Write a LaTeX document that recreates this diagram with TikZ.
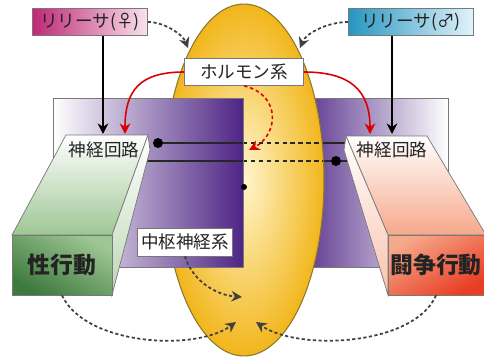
\documentclass[tikz,border=0pt]{standalone}
\usepackage{fontspec}
\setmainfont{Noto Sans CJK JP}
\usepackage{tikz}
\usetikzlibrary{arrows.meta,backgrounds,calc}

\definecolor{slabpurple}{RGB}{78,36,132}
\definecolor{eggyellow}{RGB}{242,182,28}
\definecolor{eggpale}{RGB}{255,246,205}
\definecolor{eggedge}{RGB}{140,120,40}
\definecolor{femmagenta}{RGB}{192,40,118}
\definecolor{femlight}{RGB}{248,226,236}
\definecolor{malecyan}{RGB}{38,150,192}
\definecolor{malelight}{RGB}{226,243,250}
\definecolor{sexdark}{RGB}{62,122,62}
\definecolor{sexlight}{RGB}{158,198,148}
\definecolor{fightdark}{RGB}{232,62,36}
\definecolor{fightlight}{RGB}{246,168,138}
\definecolor{edgegray}{RGB}{120,120,120}
\definecolor{textgray}{RGB}{35,35,35}

\tikzset{
  labelbox/.style={draw=edgegray, text=textgray, inner sep=0pt, minimum height=0.54cm, font=\fontsize{10}{12}\selectfont},
  facebox/.style={draw=edgegray, text=textgray, inner sep=0pt, minimum height=1.2cm, font=\fontsize{13}{13}\selectfont\bfseries},
  solidarrow/.style={black, line width=1.1pt, -{Stealth[length=6pt,width=6pt]}},
  hormonearrow/.style={red!85!black, line width=0.9pt, -{Stealth[length=6pt,width=6pt]}},
  hormonedash/.style={red!85!black, line width=0.9pt, dash pattern=on 2pt off 1.6pt, -{Stealth[length=6pt,width=6pt]}},
  dotarrow/.style={black!75, line width=1pt, dash pattern=on 1.8pt off 1.4pt, -{Stealth[length=6pt,width=6pt]}},
  wire/.style={black!85, line width=0.9pt},
  bigdot/.style={circle, fill=black, inner sep=0pt, minimum size=0.2cm},
}

\begin{document}
\begin{tikzpicture}[x=0.02cm,y=-0.02cm]
\useasboundingbox (0,0) rectangle (484,359);
\fill[white] (0,0) rectangle (484,359);

% back half of the nervous system slab
\shade[left color=slabpurple, right color=white] (290,98) rectangle (448,267);
\draw[edgegray] (53,98) rectangle (448,267);
\draw[wire] (243,143) -- (352,143);
\node[bigdot] (dotr) at (336,161) {};
\draw[wire] (243,161) -- (dotr) -- (350,161);

% hormone ellipse
\shade[inner color=eggpale, outer color=eggyellow, draw=eggedge, line width=0.6pt] (244,180) ellipse [x radius=1.6cm, y radius=3.52cm];
\draw[wire, dash pattern=on 2.5pt off 2pt] (243,143) -- (322,143);
\draw[wire, dash pattern=on 2.5pt off 2pt] (243,161) -- (323,161);

% front half of the slab
\shade[left color=white, right color=slabpurple] (53,98) rectangle (243,267);
\draw[edgegray] (53,98) rectangle (243,267);
\node[bigdot] (dotl) at (158,143) {};
\draw[wire] (dotl) -- (243,143);
\draw[wire] (147,161) -- (243,161);
\node[circle, fill=black, inner sep=0pt, minimum size=0.12cm] (dotc) at (244,187) {};

% left prism
\shade[top color=white, bottom color=sexlight, draw=edgegray] (12,235) -- (112,235) -- (148,135) -- (66,135) -- cycle;
\shade[top color=white, bottom color=sexlight!70, draw=edgegray] (112,235) -- (148,135) -- (150,150) -- (112,295) -- cycle;
\node[facebox, minimum width=2cm, top color=sexlight, bottom color=sexdark, shading angle=-30] (sexbeh) at (62,265) {性行動};
\node[text=textgray, font=\fontsize{10}{12}\selectfont] (circuitl) at (104,150) {神経回路};

% right prism
\shade[top color=white, bottom color=fightlight, draw=edgegray] (388,235) -- (486,235) -- (427,136) -- (346,136) -- cycle;
\shade[top color=white, bottom color=fightlight!70, draw=edgegray] (388,235) -- (346,136) -- (344,150) -- (388,295) -- cycle;
\node[facebox, minimum width=1.92cm, top color=fightlight, bottom color=fightdark, shading angle=30] (fightbeh) at (436,265) {闘争行動};
\node[text=textgray, font=\fontsize{10}{12}\selectfont] (circuitr) at (392,150) {神経回路};

% boxes
\node[labelbox, left color=femmagenta, right color=femlight, minimum width=2.3cm] (relf) at (90,22) {リリーサ(♀)};
\node[labelbox, left color=malecyan, right color=malelight, minimum width=2.5cm] (relm) at (411,22) {リリーサ(♂)};
\node[labelbox, fill=white, minimum width=2.38cm] (hormone) at (244,72) {ホルモン系};
\node[labelbox, fill=white, minimum width=1.9cm, minimum height=0.56cm] (cns) at (185,242) {中枢神経系};

\coordinate (fltip) at (103,134);
\coordinate (hltip) at (125,134);
\coordinate (hrtip) at (370,134);
\coordinate (mrtip) at (392,134);
\coordinate (hctip) at (249,150);
\coordinate (fetip) at (188,48);
\coordinate (matip) at (300,48);
\coordinate (cnstip) at (242,297);
\coordinate (sextip) at (236,322);
\coordinate (fighttip) at (256,322);

\draw[solidarrow] (relf.south -| fltip) -- (fltip);
\draw[solidarrow] (relm.south -| mrtip) -- (mrtip);
\draw[hormonearrow] (hormone.west) .. controls (140,72) and (125,90) .. (hltip);
\draw[hormonearrow] (hormone.east) .. controls (350,72) and (370,90) .. (hrtip);
\draw[hormonedash] (hormone.south) .. controls (282,95) and (278,135) .. (hctip);
\draw[dotarrow] (relf.east) .. controls (165,22) and (183,35) .. (fetip);
\draw[dotarrow] (relm.west) .. controls (328,22) and (306,33) .. (matip);
\draw[dotarrow] (cns.south) .. controls (192,280) and (215,295) .. (cnstip);
\draw[dotarrow] (sexbeh.south) .. controls (85,345) and (195,352) .. (sextip);
\draw[dotarrow] (fightbeh.south) .. controls (415,345) and (300,352) .. (fighttip);
\end{tikzpicture}
\end{document}
